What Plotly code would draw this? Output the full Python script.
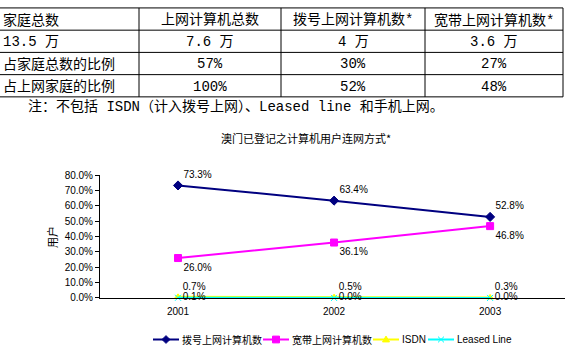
import plotly.graph_objects as go

W, H = 565, 360

# ---------------- data ----------------
table_header = ["家庭总数", "上网计算机总数", "拨号上网计算机数*", "宽带上网计算机数*"]
table_rows = [
    ["13.5 万", "7.6 万", "4 万", "3.6 万"],
    ["占家庭总数的比例", "57%", "30%", "27%"],
    ["占上网家庭的比例", "100%", "52%", "48%"],
]
table_note = "注：不包括 ISDN（计入拨号上网）、Leased line 和手机上网。"

chart_title = "澳门已登记之计算机用户连网方式*"
y_title = "用户"
years = ["2001", "2002", "2003"]
series_names = ["拨号上网计算机数", "宽带上网计算机数", "ISDN", "Leased Line"]
dialup = [73.3, 63.4, 52.8]
broadband = [26.0, 36.1, 46.8]
isdn = [0.7, 0.5, 0.3]
leased = [0.1, 0.0, 0.0]
y_ticks = [0, 10, 20, 30, 40, 50, 60, 70, 80]

# ---------------- helpers ----------------
def px_x(x):
    return x / W

def px_y(y):
    return (H - y) / H

CJK = "Noto Sans CJK SC"
TABLE_FONT = dict(family="Liberation Mono, " + CJK, size=14, color="black")
CHART_FONT = "Liberation Sans, Arial, " + CJK

fig = go.Figure()

styles = [
    dict(color="#000080", symbol="diamond", size=7, pos="top right"),
    dict(color="#FF00FF", symbol="square", size=7, pos="bottom right"),
    dict(color="#FFFF00", symbol="triangle-up", size=6, pos="top right"),
    dict(color="#00FFFF", symbol="x-thin", size=6, pos="middle right"),
]
all_series = [dialup, broadband, isdn, leased]
for name, vals, st in zip(series_names, all_series, styles):
    fig.add_trace(go.Scatter(
        x=years, y=vals, name=name, mode="lines+markers+text",
        line=dict(color=st["color"], width=2),
        marker=dict(color=st["color"], symbol=st["symbol"], size=st["size"],
                    line=dict(color=st["color"], width=1)),
        text=[f"{v:.1f}%" for v in vals], textposition=st["pos"],
        textfont=dict(family=CHART_FONT, size=10, color="black"),
        cliponaxis=False, showlegend=False,
    ))

# ---------------- table (lines + text) ----------------
col_lines = [139, 281, 425, 563]
row_lines = [2, 25, 48, 71, 94]
shapes = []
for y in row_lines:
    shapes.append(dict(type="line", xref="paper", yref="paper",
                       x0=px_x(0), x1=px_x(563), y0=px_y(y), y1=px_y(y),
                       line=dict(color="black", width=1)))
for x in col_lines:
    shapes.append(dict(type="line", xref="paper", yref="paper",
                       x0=px_x(x), x1=px_x(x), y0=px_y(row_lines[0]), y1=px_y(row_lines[-1]),
                       line=dict(color="black", width=1)))

annotations = []
col_bounds = [0] + col_lines
all_rows = [table_header] + table_rows
for r, row in enumerate(all_rows):
    yc = (row_lines[r] + row_lines[r + 1]) / 2 + 1
    for c, txt in enumerate(row):
        if c == 0:
            annotations.append(dict(x=px_x(1), y=px_y(yc), xref="paper", yref="paper",
                                    text=txt, showarrow=False, xanchor="left",
                                    yanchor="middle", font=TABLE_FONT))
        else:
            xc = (col_bounds[c] + col_bounds[c + 1]) / 2
            annotations.append(dict(x=px_x(xc), y=px_y(yc), xref="paper", yref="paper",
                                    text=txt, showarrow=False, xanchor="center",
                                    yanchor="middle", font=TABLE_FONT))
annotations.append(dict(x=px_x(26), y=px_y(104), xref="paper", yref="paper",
                        text=table_note, showarrow=False, xanchor="left",
                        yanchor="middle", font=TABLE_FONT))

# chart title and y title
annotations.append(dict(x=px_x(306), y=px_y(137), xref="paper", yref="paper",
                        text=chart_title, showarrow=False, xanchor="center", yanchor="middle",
                        font=dict(family=CJK, size=11, color="black")))
annotations.append(dict(x=px_x(52), y=px_y(239), xref="paper", yref="paper",
                        text=y_title, showarrow=False, textangle=-90,
                        xanchor="center", yanchor="middle",
                        font=dict(family=CJK, size=11, color="black")))

# ---------------- legend (drawn) ----------------
leg_y = 345
leg_items = [153, 263, 373, 428]   # left end of each legend sample line
leg_len = 26
for name, st, x0 in zip(series_names, styles, leg_items):
    cx = x0 + leg_len / 2
    shapes.append(dict(type="line", xref="paper", yref="paper",
                       x0=px_x(x0), x1=px_x(x0 + leg_len), y0=px_y(leg_y), y1=px_y(leg_y),
                       line=dict(color=st["color"], width=2)))
    if st["symbol"] == "diamond":
        pts = [(cx, leg_y - 4), (cx + 4, leg_y), (cx, leg_y + 4), (cx - 4, leg_y)]
        path = "M" + " L".join(f"{px_x(a)},{px_y(b)}" for a, b in pts) + " Z"
        shapes.append(dict(type="path", xref="paper", yref="paper", path=path,
                           fillcolor=st["color"], line=dict(color=st["color"], width=1)))
    elif st["symbol"] == "square":
        shapes.append(dict(type="rect", xref="paper", yref="paper",
                           x0=px_x(cx - 3.5), x1=px_x(cx + 3.5),
                           y0=px_y(leg_y + 3.5), y1=px_y(leg_y - 3.5),
                           fillcolor=st["color"], line=dict(color=st["color"], width=1)))
    elif st["symbol"] == "triangle-up":
        pts = [(cx, leg_y - 3.5), (cx + 3.5, leg_y + 2.5), (cx - 3.5, leg_y + 2.5)]
        path = "M" + " L".join(f"{px_x(a)},{px_y(b)}" for a, b in pts) + " Z"
        shapes.append(dict(type="path", xref="paper", yref="paper", path=path,
                           fillcolor=st["color"], line=dict(color=st["color"], width=1)))
    else:
        for dx in (-3, 3):
            shapes.append(dict(type="line", xref="paper", yref="paper",
                               x0=px_x(cx - dx), x1=px_x(cx + dx),
                               y0=px_y(leg_y - 3), y1=px_y(leg_y + 3),
                               line=dict(color=st["color"], width=1)))
    annotations.append(dict(x=px_x(x0 + leg_len + 1), y=px_y(leg_y), xref="paper", yref="paper",
                            text=name, showarrow=False, xanchor="left", yanchor="middle",
                            font=dict(family=CHART_FONT, size=10, color="black")))

fig.update_layout(
    width=W, height=H,
    margin=dict(l=0, r=0, t=0, b=0),
    paper_bgcolor="white", plot_bgcolor="white",
    shapes=shapes, annotations=annotations,
    showlegend=False,
    xaxis=dict(domain=[px_x(100), 1], range=[-0.5, 2.48], type="category",
               showline=True, linecolor="black", linewidth=1, showgrid=False,
               ticks="", ticklabelstandoff=4,
               tickfont=dict(family=CHART_FONT, size=10, color="black"),
               zeroline=False),
    yaxis=dict(domain=[px_y(302), px_y(175)], range=[0, 80], tickvals=y_ticks,
               ticktext=[f"{v:.1f}%" for v in y_ticks],
               showline=True, linecolor="black", linewidth=1, showgrid=False,
               ticks="outside", ticklen=4, tickcolor="black",
               tickfont=dict(family=CHART_FONT, size=10, color="black"),
               zeroline=False),
)

fig.write_html("out.html",
               config={"displayModeBar": False},
               post_script="document.body.style.margin='0';document.body.style.overflow='hidden';")
